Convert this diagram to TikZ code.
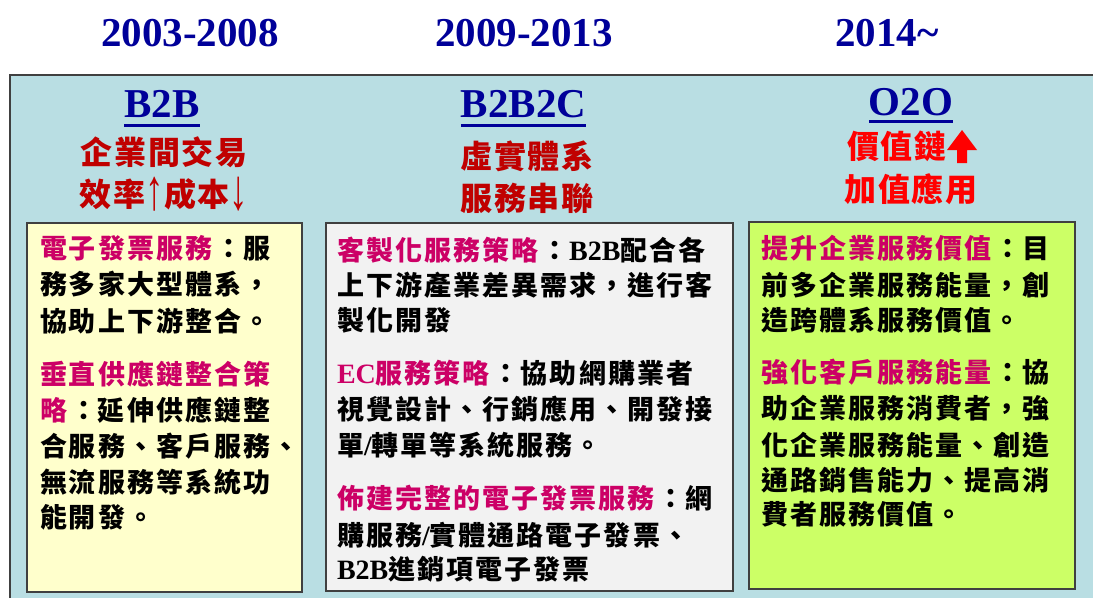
\documentclass[tikz,border=0pt]{standalone}
\usepackage{fontspec}
\setmainfont{Liberation Serif}
\newfontfamily\cjk{Noto Sans CJK TC}[LetterSpace=7.5, Kerning=Off]
\newfontfamily\cjkh{Noto Sans CJK TC}[LetterSpace=6, Kerning=Off]
\newfontfamily\lat{Liberation Serif}
\definecolor{navy}{RGB}{0,0,153}
\definecolor{panel}{RGB}{185,222,227}
\definecolor{bord}{RGB}{64,64,64}
\definecolor{dred}{RGB}{192,0,0}
\definecolor{bred}{RGB}{255,0,0}
\definecolor{mag}{RGB}{204,0,102}
\definecolor{fillA}{RGB}{255,255,204}
\definecolor{fillB}{RGB}{242,242,242}
\definecolor{fillC}{RGB}{204,255,102}
\newcommand\magt[1]{\textcolor{mag}{#1}}
\newcommand\latn[1]{{\lat\fontsize{28}{28}\selectfont #1}}
\newcommand\fcol{\hspace{3pt}：\hspace{1pt}}
\newcommand\tallarr[1]{\raisebox{-3pt}{\scalebox{1.15}[1.8]{\lat\mdseries #1}}}
\begin{document}
\begin{tikzpicture}[x=1pt,y=-1pt,
  every node/.style={inner sep=0pt, outer sep=0pt},
  year/.style={anchor=base, font=\lat\bfseries\fontsize{41}{41}\selectfont, text=navy},
  head/.style={anchor=base, font=\lat\bfseries\fontsize{41}{41}\selectfont, text=navy},
  uline/.style={draw=navy, line width=3pt},
  sub/.style={anchor=base, font=\cjkh\bfseries\fontsize{32}{32}\selectfont, text=dred},
  subr/.style={sub, text=bred},
  body/.style={anchor=base west, font=\cjk\bfseries\fontsize{27}{27}\selectfont, text=black},
  card/.style={draw=bord, line width=1.2pt}
]
\useasboundingbox (0,0) rectangle (1093,598);
\fill[white] (0,0) rectangle (1093,598);
% outer panel
\fill[panel] (10,75) rectangle (1093,598);
\draw[bord, line width=1.5pt] (10,598) -- (10,75) -- (1093,75);

% years
\node[year] (y1) at (190,46) {2003-2008};
\node[year] (y2) at (524,46) {2009-2013};
\node[year] (y3) at (887,46) {2014\char"7E};

% headings
\node[head] (h1) at (162,117) {B2B};
\node[head] (h2) at (523.5,117) {B2B2C};
\node[head] (h3) at (911,115) {O2O};
\draw[uline] ([yshift=-8pt]h1.base west) -- ([yshift=-8pt]h1.base east);
\draw[uline] ([yshift=-8pt]h2.base west) -- ([yshift=-8pt]h2.base east);
\draw[uline] ([yshift=-6pt]h3.base west) -- ([yshift=-6pt]h3.base east);

% sub headings
\node[sub] (s1a) at (164,164) {企業間交易};
\node[sub] (s1b) at (164,206) {效率\tallarr{↑}成本\tallarr{↓}};
\node[sub] (s2a) at (527,168) {虛實體系};
\node[sub] (s2b) at (527,210) {服務串聯};
\node[subr, anchor=base west] (s3a) at (847,158) {價值鏈};
\fill[bred] (962,130) -- (977,150) -- (967,150) -- (967,163) -- (957,163) -- (957,150) -- (947,150) -- cycle;
\node[subr] (s3b) at (911,201) {加值應用};

% cards
\draw[card, fill=fillA] (27,223) rectangle (302,592);
\draw[card, fill=fillB] (326,223) rectangle (733,591);
\draw[card, fill=fillC] (749,222) rectangle (1075,589);

% card 1 text
\node[body] (a1) at (40,258) {\magt{電子發票服務}\fcol 服};
\node[body] (a2) at (40,294.5) {務多家大型體系，};
\node[body] (a3) at (40,331) {協助上下游整合。};
\node[body] (a4) at (40,384) {\magt{垂直供應鏈整合策}};
\node[body] (a5) at (40,420) {\magt{略}\fcol 延伸供應鏈整};
\node[body] (a6) at (40,456) {合服務、客戶服務、};
\node[body] (a7) at (40,492) {無流服務等系統功};
\node[body] (a8) at (40,527) {能開發。};

% card 2 text
\node[body] (b1) at (337,260) {\magt{客製化服務策略}\fcol\latn{B2B}配合各};
\node[body] (b2) at (337,295) {上下游產業差異需求，進行客};
\node[body] (b3) at (337,330) {製化開發};
\node[body] (b4) at (337,383) {\magt{\latn{EC}服務策略}\fcol 協助網購業者};
\node[body] (b5) at (337,419) {視覺設計、行銷應用、開發接};
\node[body] (b6) at (337,455) {單\latn{/}轉單等系統服務。};
\node[body] (b7) at (337,508) {\magt{佈建完整的電子發票服務}\fcol 網};
\node[body] (b8) at (337,545) {購服務\latn{/}實體通路電子發票、};
\node[body] (b9) at (337,579) {\latn{B2B}進銷項電子發票};

% card 3 text
\node[body] (c1) at (761,258) {\magt{提升企業服務價值}\fcol 目};
\node[body] (c2) at (761,295) {前多企業服務能量，創};
\node[body] (c3) at (761,330) {造跨體系服務價值。};
\node[body] (c4) at (761,382) {\magt{強化客戶服務能量}\fcol 協};
\node[body] (c5) at (761,418) {助企業服務消費者，強};
\node[body] (c6) at (761,455) {化企業服務能量、創造};
\node[body] (c7) at (761,490) {通路銷售能力、提高消};
\node[body] (c8) at (761,524) {費者服務價值。};
\end{tikzpicture}
\end{document}
